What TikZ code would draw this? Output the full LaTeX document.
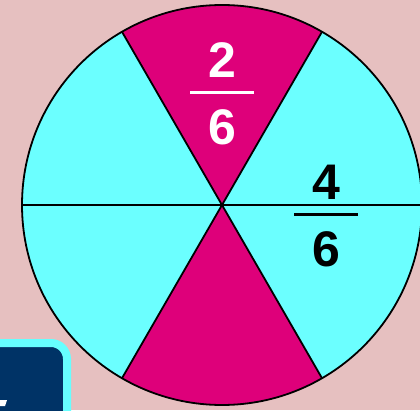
\documentclass[tikz,border=0pt]{standalone}
\usepackage{fontspec}
\setmainfont{Liberation Sans}
\usetikzlibrary{positioning}
\usepackage{xcolor}
\definecolor{bgpink}{HTML}{E6C0C0}
\definecolor{wedgemag}{HTML}{DE007A}
\definecolor{wedgecyan}{HTML}{6BFFFF}
\definecolor{boxblue}{HTML}{003366}
\definecolor{boxcyan}{HTML}{66FFFF}

\begin{document}
\begin{tikzpicture}[
    x=1pt, y=1pt,
    outline/.style={draw=black, line width=1.8pt, line join=round},
    digit/.style={font=\fontsize{50}{50}\selectfont\bfseries, inner sep=0pt},
    fracbar/.style={minimum width=64pt, minimum height=3pt, inner sep=0pt}
]
\fill[bgpink] (0,0) rectangle (420,410);
\useasboundingbox (0,0) rectangle (420,410);

% wheel of six parts
\coordinate (hub) at (222,205);
\foreach \a/\col in {0/wedgecyan, 60/wedgemag, 120/wedgecyan, 180/wedgecyan, 240/wedgemag, 300/wedgecyan}
    \fill[\col] (hub) -- ++(\a:200) arc[start angle=\a, end angle=\a+60, radius=200pt] -- cycle;
\draw[outline] (hub) circle[radius=200pt];
\foreach \a in {0,60,120}
    \draw[outline] (hub) ++(\a:200) -- ++(\a+180:400);

% fractions
\node[digit, text=white] (two) at (222,350) {2};
\node[fracbar, fill=white, below=13.5pt of two] (bartop) {};
\node[digit, text=white, below=15pt of bartop] (sixtop) {6};

\node[digit] (four) at (326,228) {4};
\node[fracbar, fill=black, below=13.5pt of four] (barright) {};
\node[digit, below=15pt of barright] (sixright) {6};

% corner button
\draw[line width=8pt, draw=boxcyan, fill=boxblue, rounded corners=16pt] (-20,-20) rectangle (67,67);
\fill[white] (0,10) -- (7,10) -- (5,4) -- (0,4) -- cycle;
\end{tikzpicture}
\end{document}
